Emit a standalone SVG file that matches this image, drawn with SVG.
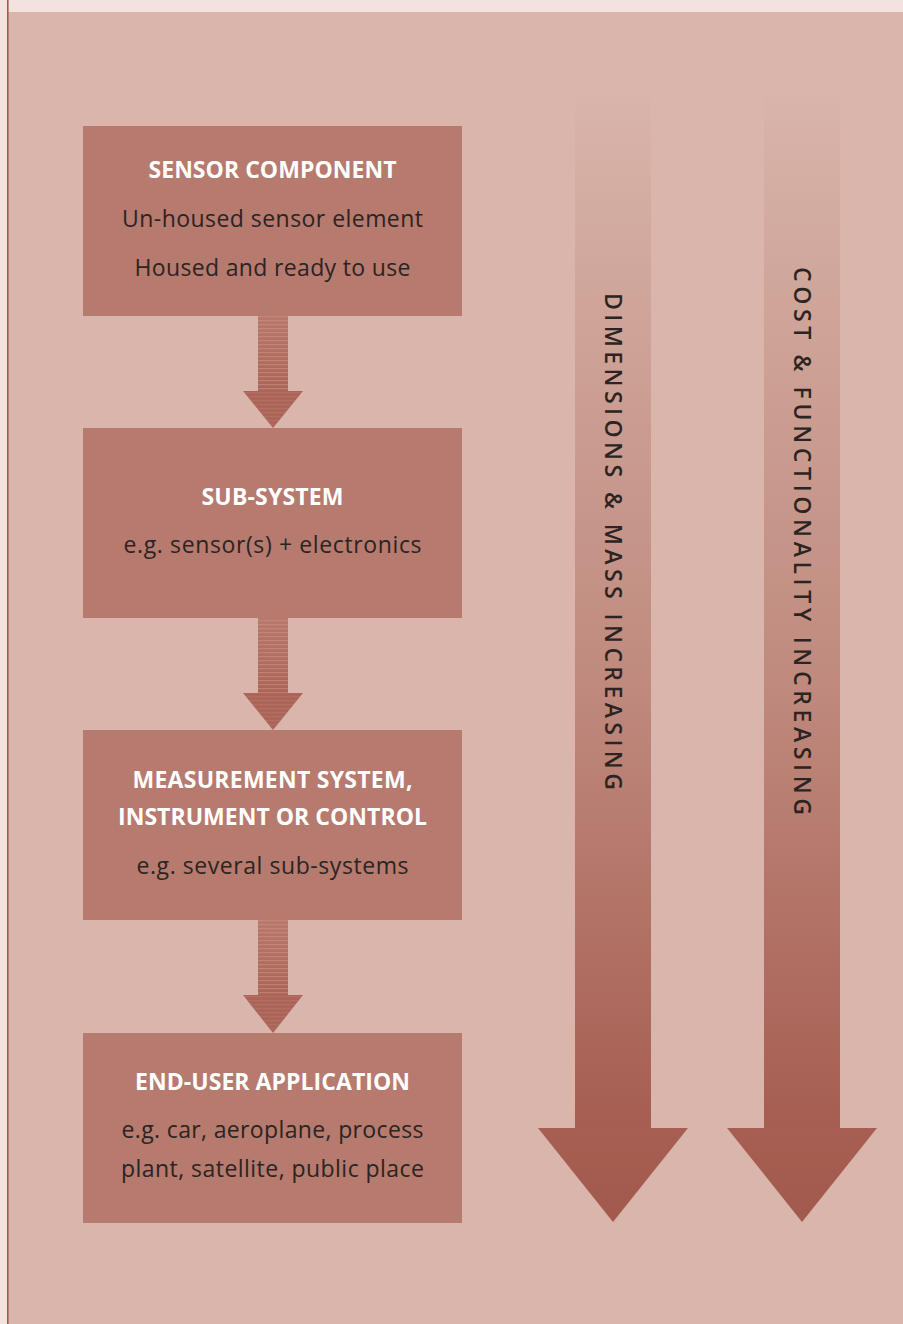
<svg xmlns="http://www.w3.org/2000/svg" width="903" height="1324" viewBox="0 0 903 1324">
  <defs>
    <style>
      .box { fill: #b67a6e; }
      .title { font-family: "Open Sans", "Liberation Sans", sans-serif; font-weight: 700; font-size: 23px; fill: #ffffff; text-anchor: middle; }
      .body { font-family: "Open Sans", "Liberation Sans", sans-serif; font-weight: 400; font-size: 23px; fill: #2b2422; text-anchor: middle; }
      .side { font-family: "Open Sans", "Liberation Sans", sans-serif; font-weight: 600; font-size: 23px; fill: #2b2422; }
    </style>
    <!-- small connector arrow: darker toward the head, with faint horizontal rules -->
    <linearGradient id="smallShaft" x1="0" y1="0" x2="0" y2="1">
      <stop offset="0" stop-color="#b8786c"/>
      <stop offset="1" stop-color="#ab6457"/>
    </linearGradient>
    <pattern id="rules" x="0" y="0" width="10" height="4" patternUnits="userSpaceOnUse">
      <rect width="10" height="1.2" fill="#c99488" opacity="0.55"/>
    </pattern>
    <!-- long trend arrows fade in from the background at the top -->
    <linearGradient id="bigShaft" x1="0" y1="97" x2="0" y2="1222" gradientUnits="userSpaceOnUse">
      <stop offset="0" stop-color="#d9b4aa"/>
      <stop offset="0.12" stop-color="#d2aa9f"/>
      <stop offset="0.5" stop-color="#c18c80"/>
      <stop offset="0.9" stop-color="#a75f53"/>
      <stop offset="1" stop-color="#a35b4f"/>
    </linearGradient>
    <linearGradient id="bigHead" x1="0" y1="1128" x2="0" y2="1222" gradientUnits="userSpaceOnUse">
      <stop offset="0" stop-color="#a65f52"/>
      <stop offset="1" stop-color="#a3594d"/>
    </linearGradient>
  </defs>

  <!-- page frame -->
  <rect x="0" y="0" width="903" height="1324" fill="#f2e3df"/>
  <rect x="8" y="12" width="895" height="1312" fill="#d9b5ab"/>
  <rect x="7" y="0" width="1.6" height="1324" fill="#a4594d"/>

  <!-- connectors between stages -->
  <g id="connectors">
    <g id="arrow-1-2">
      <rect x="258" y="316" width="30" height="76" fill="url(#smallShaft)"/>
      <rect x="258" y="316" width="30" height="76" fill="url(#rules)"/>
      <polygon points="243,391 303,391 273,428" fill="#ab6457"/>
      <polygon points="243,391 303,391 273,428" fill="url(#rules)" opacity="0.4"/>
    </g>
    <g id="arrow-2-3">
      <rect x="258" y="618" width="30" height="76" fill="url(#smallShaft)"/>
      <rect x="258" y="618" width="30" height="76" fill="url(#rules)"/>
      <polygon points="243,693 303,693 273,730" fill="#ab6457"/>
      <polygon points="243,693 303,693 273,730" fill="url(#rules)" opacity="0.4"/>
    </g>
    <g id="arrow-3-4">
      <rect x="258" y="920" width="30" height="76" fill="url(#smallShaft)"/>
      <rect x="258" y="920" width="30" height="76" fill="url(#rules)"/>
      <polygon points="243,995 303,995 273,1033" fill="#ab6457"/>
      <polygon points="243,995 303,995 273,1033" fill="url(#rules)" opacity="0.4"/>
    </g>
  </g>

  <!-- stage boxes -->
  <g id="sensor-component">
    <rect class="box" x="83" y="126" width="379" height="190"/>
    <text class="title" x="272.5" y="178" textLength="248" lengthAdjust="spacing">SENSOR COMPONENT</text>
    <text class="body" x="272.5" y="227" textLength="301" lengthAdjust="spacing">Un-housed sensor element</text>
    <text class="body" x="272.5" y="276" textLength="276" lengthAdjust="spacing">Housed and ready to use</text>
  </g>

  <g id="sub-system">
    <rect class="box" x="83" y="428" width="379" height="190"/>
    <text class="title" x="272.5" y="505" textLength="142" lengthAdjust="spacing">SUB-SYSTEM</text>
    <text class="body" x="272.5" y="553" textLength="298" lengthAdjust="spacing">e.g. sensor(s) + electronics</text>
  </g>

  <g id="measurement-system">
    <rect class="box" x="83" y="730" width="379" height="190"/>
    <text class="title" x="272.5" y="788" textLength="280" lengthAdjust="spacing">MEASUREMENT SYSTEM,</text>
    <text class="title" x="272.5" y="825" textLength="309" lengthAdjust="spacing">INSTRUMENT OR CONTROL</text>
    <text class="body" x="272.5" y="874" textLength="272" lengthAdjust="spacing">e.g. several sub-systems</text>
  </g>

  <g id="end-user-application">
    <rect class="box" x="83" y="1033" width="379" height="190"/>
    <text class="title" x="272.5" y="1090" textLength="275" lengthAdjust="spacing">END-USER APPLICATION</text>
    <text class="body" x="272.5" y="1138" textLength="302" lengthAdjust="spacing">e.g. car, aeroplane, process</text>
    <text class="body" x="272.5" y="1177" textLength="303" lengthAdjust="spacing">plant, satellite, public place</text>
  </g>

  <!-- trend arrows -->
  <g id="dimensions-mass">
    <rect x="575" y="97" width="76" height="1032" fill="url(#bigShaft)"/>
    <polygon points="538,1128 688,1128 613,1222" fill="url(#bigHead)"/>
    <text class="side" transform="translate(605,293) rotate(90)" textLength="497" lengthAdjust="spacing">DIMENSIONS &amp; MASS INCREASING</text>
  </g>

  <g id="cost-functionality">
    <rect x="764" y="97" width="76" height="1032" fill="url(#bigShaft)"/>
    <polygon points="727,1128 877,1128 802,1222" fill="url(#bigHead)"/>
    <text class="side" transform="translate(794,267) rotate(90)" textLength="548" lengthAdjust="spacing">COST &amp; FUNCTIONALITY INCREASING</text>
  </g>
</svg>
